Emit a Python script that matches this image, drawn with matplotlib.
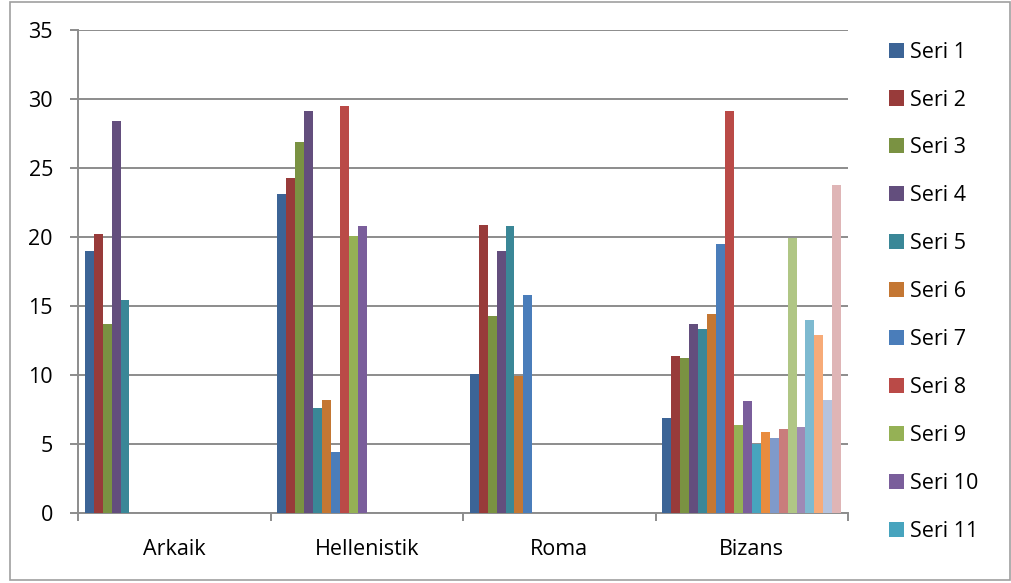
import numpy as np
import matplotlib.pyplot as plt
from matplotlib.patches import Rectangle

plt.rcParams['font.family'] = ['Open Sans', 'DejaVu Sans']

categories = ["Arkaik", "Hellenistik", "Roma", "Bizans"]

# values per category, series 1..n (missing series have no bar)
arkaik = [19.0, 20.2, 13.7, 28.4, 15.4]
hellenistik = [23.1, 24.3, 26.9, 29.1, 7.6, 8.2, 4.4, 29.5, 20.1, 20.8]
roma = [10.1, 20.9, 14.3, 19.0, 20.8, 9.9, 15.8]
bizans = [6.9, 11.4, 11.2, 13.7, 13.3, 14.4, 19.5, 29.1, 6.4, 8.1,
          5.0, 5.9, 5.4, 6.1, 19.9, 6.2, 14.0, 12.9, 8.2, 23.8]

series_names = ["Seri %d" % (i + 1) for i in range(20)]
colors = ["#3C6496", "#983B3A", "#7A9242", "#634E7D", "#3A8797", "#C47733",
          "#4A7DBA", "#BA4A47", "#95B155", "#7A5E9B", "#47A4BE", "#E98C3E",
          "#7F9ACA", "#C97D7C", "#B0C685", "#9E89B5", "#7EBAD0", "#F7AB78",
          "#B5C3DE", "#DFB5B6"]

groups = [arkaik, hellenistik, roma, bizans]
n_series = len(series_names)
data = np.full((n_series, len(categories)), np.nan)
for j, g in enumerate(groups):
    data[:len(g), j] = g

fig = plt.figure(figsize=(10.12, 5.83), dpi=100)
ax = fig.add_axes([78 / 1012, 70 / 583, 770 / 1012, 483 / 583])

x = np.arange(len(categories))
w = 0.93 / n_series
bars = []
for i in range(n_series):
    b = ax.bar(x - 0.465 + w * (i + 0.5), data[i], width=w, color=colors[i],
               label=series_names[i], zorder=3)
    bars.append(b)

ax.set_xlim(-0.5, 3.5)
ax.set_ylim(0, 35)
ax.set_yticks(range(0, 36, 5))
ax.yaxis.grid(True, color="#8C8C8C", linewidth=1.4, zorder=0)
ax.set_xticks(x)
ax.set_xticklabels(categories)
ax.set_xticks(np.arange(-0.5, 4, 1), minor=True)
ax.tick_params(axis='x', which='major', length=0, pad=19, labelsize=15.5)
ax.tick_params(axis='x', which='minor', length=6, width=1.4, color="#8C8C8C")
ax.tick_params(axis='y', length=6, width=1.4, color="#8C8C8C", pad=12, labelsize=15.5)
for s in ["top", "right"]:
    ax.spines[s].set_visible(False)
for s in ["left", "bottom"]:
    ax.spines[s].set_color("#8C8C8C")
    ax.spines[s].set_linewidth(1.4)

# legend shows only the first 11 series, like the original
handles = [bars[i] for i in range(11)]
leg = fig.legend(handles, series_names[:11], loc="upper left",
                 bbox_to_anchor=(880 / 1012, 1 - 33 / 583), frameon=False,
                 fontsize=15.5, handlelength=0.7, handleheight=0.7,
                 handletextpad=0.3, labelspacing=1.25, borderaxespad=0)

fig.patches.append(Rectangle((10 / 1012, 3 / 583), 1000 / 1012, 578 / 583,
                             transform=fig.transFigure, fill=False,
                             edgecolor="#A0A0A0", linewidth=1.2))

fig.savefig("out.png", dpi=100)
